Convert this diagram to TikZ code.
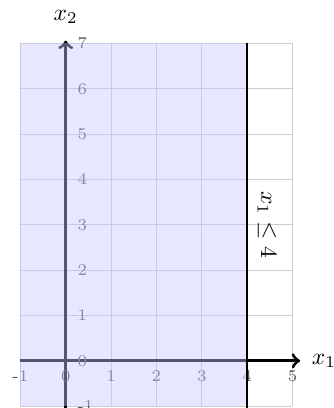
\documentclass[tikz,border=0pt]{standalone}
\begin{document}
\begin{tikzpicture}[x=0.676cm, y=0.676cm,
  gridline/.style={gray!40, line width=0.4pt},
  axisline/.style={black, line width=1.3pt, ->},
  ticklab/.style={black!65, font=\scriptsize, inner sep=0pt},
  region/.style={fill=blue!22, fill opacity=0.43, draw=none},
  bound/.style={black, line width=0.9pt}
]
\useasboundingbox (-1.449,-1.041) rectangle (5.916,7.956);
\foreach \i in {-1,...,5} { \draw[gridline] (\i,-1) -- (\i,7); }
\foreach \j in {-1,...,7} { \draw[gridline] (-1,\j) -- (5,\j); }
% axes
\coordinate (xs) at (-1,0);
\coordinate (xe) at (5.17,0);
\coordinate (ys) at (0,-1.2);
\coordinate (ye) at (0,7.06);
\draw[axisline] (xs) -- (xe);
\draw[axisline] (ys) -- (ye);
\node[anchor=west, inner sep=0pt] (x1lab) at (5.42,0) {$x_1$};
\node (x2lab) at (0,7.58) {$x_2$};
% tick labels
\foreach \i in {-1,...,5} {
  \node[ticklab] (tx\i) at (\i,-0.34) {\i};
}
\foreach \j in {-1,...,7} {
  \node[ticklab, anchor=west] (ty\j) at (0.25,\j) {\j};
}
% feasible region
\fill[region] (-1,-1) rectangle (4,7);
% constraint
\coordinate (cb) at (4,-1.2);
\coordinate (ct) at (4,7);
\draw[bound] (cb) -- (ct);
\node[rotate=-90] (clab) at (4.44,3) {$x_1 \leq 4$};
\end{tikzpicture}
\end{document}
